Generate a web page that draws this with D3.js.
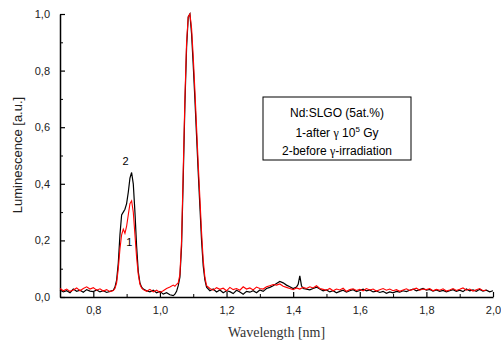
<!DOCTYPE html>
<html>
<head>
<meta charset="utf-8">
<script src="https://cdn.jsdelivr.net/npm/d3@7"></script>
<style>
  body { margin: 0; background: #fff; }
  svg { display: block; }
  .tick text { font-family: "Liberation Sans", Arial, sans-serif; font-size: 11px; fill: #222; }
</style>
</head>
<body>
<svg id="chart" width="501" height="345"></svg>
<script>
// wavelength [nm], luminescence [a.u.]
const beforeWl = [0.70,0.71,0.72,0.73,0.74,0.75,0.76,0.77,0.78,0.79,0.80,0.81,0.82,0.83,0.84,0.85,0.86,0.865,0.87,0.875,0.88,0.885,0.89,0.895,0.90,0.905,0.91,0.915,0.92,0.925,0.93,0.935,0.94,0.945,0.95,0.96,0.97,0.98,0.99,1.00,1.01,1.02,1.03,1.04,1.045,1.05,1.055,1.06,1.065,1.07,1.075,1.08,1.085,1.09,1.095,1.10,1.105,1.11,1.115,1.12,1.125,1.13,1.135,1.14,1.15,1.16,1.17,1.18,1.19,1.20,1.21,1.22,1.23,1.24,1.25,1.26,1.27,1.28,1.29,1.30,1.31,1.32,1.33,1.34,1.35,1.36,1.37,1.38,1.39,1.40,1.41,1.415,1.42,1.425,1.43,1.44,1.45,1.46,1.47,1.48,1.49,1.50,1.51,1.52,1.53,1.54,1.55,1.56,1.57,1.58,1.59,1.60,1.61,1.62,1.63,1.64,1.65,1.66,1.67,1.68,1.69,1.70,1.71,1.72,1.73,1.74,1.75,1.76,1.77,1.78,1.79,1.80,1.81,1.82,1.83,1.84,1.85,1.86,1.87,1.88,1.89,1.90,1.91,1.92,1.93,1.94,1.95,1.96,1.97,1.98,1.99,2.00];
const beforeLum = [0.025,0.018,0.022,0.015,0.028,0.020,0.024,0.017,0.026,0.021,0.019,0.025,0.018,0.022,0.016,0.020,0.024,0.035,0.06,0.12,0.22,0.29,0.30,0.31,0.33,0.37,0.42,0.44,0.40,0.30,0.18,0.09,0.05,0.035,0.028,0.022,0.018,0.024,0.015,0.020,0.010,0.015,0.008,0.005,0.010,0.020,0.04,0.07,0.18,0.42,0.68,0.88,0.99,1.00,0.93,0.82,0.70,0.57,0.44,0.32,0.20,0.11,0.06,0.035,0.022,0.028,0.018,0.025,0.015,0.022,0.019,0.012,0.024,0.018,0.010,0.020,0.017,0.022,0.015,0.025,0.020,0.030,0.034,0.040,0.048,0.055,0.050,0.042,0.036,0.030,0.035,0.045,0.075,0.040,0.030,0.028,0.025,0.030,0.035,0.028,0.022,0.025,0.018,0.022,0.015,0.020,0.024,0.017,0.022,0.026,0.019,0.023,0.028,0.022,0.025,0.018,0.021,0.016,0.020,0.013,0.018,0.015,0.020,0.017,0.022,0.019,0.024,0.028,0.022,0.026,0.030,0.024,0.027,0.021,0.025,0.020,0.023,0.018,0.022,0.026,0.020,0.024,0.019,0.028,0.022,0.025,0.020,0.027,0.021,0.024,0.018,0.022];

const afterWl = [0.70,0.71,0.72,0.73,0.74,0.75,0.76,0.77,0.78,0.79,0.80,0.81,0.82,0.83,0.84,0.85,0.86,0.865,0.87,0.875,0.88,0.885,0.89,0.895,0.90,0.905,0.91,0.915,0.92,0.925,0.93,0.935,0.94,0.945,0.95,0.96,0.97,0.98,0.99,1.00,1.01,1.02,1.03,1.04,1.045,1.05,1.055,1.06,1.065,1.07,1.075,1.08,1.085,1.09,1.095,1.10,1.105,1.11,1.115,1.12,1.125,1.13,1.135,1.14,1.15,1.16,1.17,1.18,1.19,1.20,1.21,1.22,1.23,1.24,1.25,1.26,1.27,1.28,1.29,1.30,1.31,1.32,1.33,1.34,1.35,1.36,1.37,1.38,1.39,1.40,1.41,1.42,1.43,1.44,1.45,1.46,1.47,1.48,1.49,1.50,1.51,1.52,1.53,1.54,1.55,1.56,1.57,1.58,1.59,1.60,1.61,1.62,1.63,1.64,1.65,1.66,1.67,1.68,1.69,1.70,1.71,1.72,1.73,1.74,1.75,1.76,1.77,1.78,1.79,1.80,1.81,1.82,1.83,1.84,1.85,1.86,1.87,1.88,1.89,1.90,1.91,1.92,1.93,1.94,1.95,1.96,1.97,1.98,1.99,2.00];
const afterLum = [0.030,0.022,0.028,0.020,0.025,0.032,0.022,0.030,0.036,0.028,0.033,0.024,0.029,0.021,0.026,0.019,0.023,0.030,0.05,0.10,0.17,0.22,0.24,0.225,0.25,0.29,0.33,0.34,0.30,0.22,0.14,0.08,0.045,0.032,0.026,0.020,0.027,0.018,0.024,0.016,0.022,0.030,0.035,0.042,0.038,0.045,0.05,0.08,0.20,0.45,0.70,0.90,0.99,1.00,0.95,0.85,0.73,0.60,0.47,0.35,0.23,0.13,0.07,0.04,0.030,0.024,0.033,0.027,0.031,0.022,0.034,0.026,0.030,0.024,0.036,0.028,0.032,0.025,0.035,0.030,0.028,0.036,0.040,0.044,0.042,0.046,0.038,0.034,0.030,0.026,0.032,0.028,0.034,0.030,0.036,0.032,0.040,0.030,0.027,0.024,0.030,0.022,0.028,0.025,0.031,0.020,0.026,0.029,0.023,0.027,0.022,0.030,0.025,0.028,0.021,0.026,0.030,0.024,0.028,0.022,0.026,0.020,0.025,0.029,0.023,0.027,0.031,0.024,0.028,0.026,0.030,0.022,0.027,0.024,0.029,0.021,0.025,0.030,0.023,0.027,0.032,0.024,0.028,0.021,0.026,0.030,0.022,0.025];

const xMajor = [0.8,1.0,1.2,1.4,1.6,1.8,2.0];
const xMinor = [0.7,0.9,1.1,1.3,1.5,1.7,1.9];
const yMajor = [0.0,0.2,0.4,0.6,0.8,1.0];
const yMinor = [0.1,0.3,0.5,0.7,0.9];
const legendLines = ["Nd:SLGO (5at.%)", "1-after", "2-before"];

const margin = { top: 14, right: 8, bottom: 48, left: 60 };
const width = 501, height = 345;
const svg = d3.select('#chart');
const g = svg.append('g').attr('transform', `translate(${margin.left},${margin.top})`);

const xScale = d3.scaleLinear().domain([0.7, 2.0]).range([0, 433]);
const yScale = d3.scaleLinear().domain([0, 1.0]).range([283, 0]);
const fmt = d => d.toFixed(1).replace('.', ',');

// minor ticks first, then major axis with labels
g.append('g').attr('transform', 'translate(0,283)')
  .call(d3.axisBottom(xScale).tickValues(xMinor).tickSize(-3).tickFormat(''))
  .call(a => a.select('.domain').remove());
g.append('g').call(d3.axisLeft(yScale).tickValues(yMinor).tickSize(-3).tickFormat(''))
  .call(a => a.select('.domain').remove());

const xAxis = g.append('g').attr('transform', 'translate(0,283)')
  .call(d3.axisBottom(xScale).tickValues(xMajor).tickSize(-5).tickSizeOuter(0).tickPadding(9).tickFormat(fmt));
const yAxis = g.append('g')
  .call(d3.axisLeft(yScale).tickValues(yMajor).tickSize(-5).tickSizeOuter(0).tickPadding(10).tickFormat(fmt));
[xAxis, yAxis].forEach(a => {
  a.selectAll('.domain').attr('stroke-width', 1.5);
  a.selectAll('.tick line').attr('stroke-width', 1.2);
});

const line = d3.line().x(d => xScale(d[0])).y(d => yScale(d[1]));
const before = beforeWl.map((w, i) => [w, beforeLum[i]]);
const after = afterWl.map((w, i) => [w, afterLum[i]]);

g.append('path').datum(before).attr('d', line)
  .attr('fill', 'none').attr('stroke', '#000').attr('stroke-width', 1.2);
g.append('path').datum(after).attr('d', line)
  .attr('fill', 'none').attr('stroke', '#ff0000').attr('stroke-width', 1.1);

// curve labels
g.append('text').attr('x', xScale(0.897)).attr('y', yScale(0.465))
  .attr('text-anchor', 'middle').style('font-family', 'Liberation Sans, Arial, sans-serif')
  .style('font-size', '11px').text('2');
g.append('text').attr('x', xScale(0.908)).attr('y', yScale(0.18))
  .attr('text-anchor', 'middle').style('font-family', 'Liberation Sans, Arial, sans-serif')
  .style('font-size', '11px').text('1');

// axis titles
svg.append('text').attr('x', margin.left + xScale(1.35)).attr('y', 337)
  .attr('text-anchor', 'middle').style('font-family', 'Liberation Serif, Times New Roman, serif')
  .style('font-size', '14px').attr('fill', '#333').text('Wavelength [nm]');
svg.append('text').attr('transform', 'translate(22,155) rotate(-90)')
  .attr('text-anchor', 'middle').style('font-family', 'Liberation Sans, Arial, sans-serif')
  .style('font-size', '13px').attr('fill', '#222').text('Luminescence [a.u.]');

// legend box
const lg = svg.append('g').attr('transform', 'translate(263,97)');
lg.append('rect').attr('width', 148).attr('height', 63)
  .attr('fill', '#fff').attr('stroke', '#000').attr('stroke-width', 1);
const lf = 'Liberation Sans, Arial, sans-serif';
lg.append('text').attr('x', 74).attr('y', 20).attr('text-anchor', 'middle')
  .style('font-family', lf).style('font-size', '12px').text(legendLines[0]);
const t2 = lg.append('text').attr('x', 74).attr('y', 40).attr('text-anchor', 'middle')
  .style('font-family', lf).style('font-size', '12px');
t2.append('tspan').text(legendLines[1] + ' ');
t2.append('tspan').style('font-family', 'Liberation Serif, serif').text('γ');
t2.append('tspan').text(' 10');
t2.append('tspan').attr('dy', -5).style('font-size', '8px').text('5');
t2.append('tspan').attr('dy', 5).text(' Gy');
const t3 = lg.append('text').attr('x', 74).attr('y', 58).attr('text-anchor', 'middle')
  .style('font-family', lf).style('font-size', '12px');
t3.append('tspan').text(legendLines[2] + ' ');
t3.append('tspan').style('font-family', 'Liberation Serif, serif').text('γ');
t3.append('tspan').text('-irradiation');
</script>
</body>
</html>
